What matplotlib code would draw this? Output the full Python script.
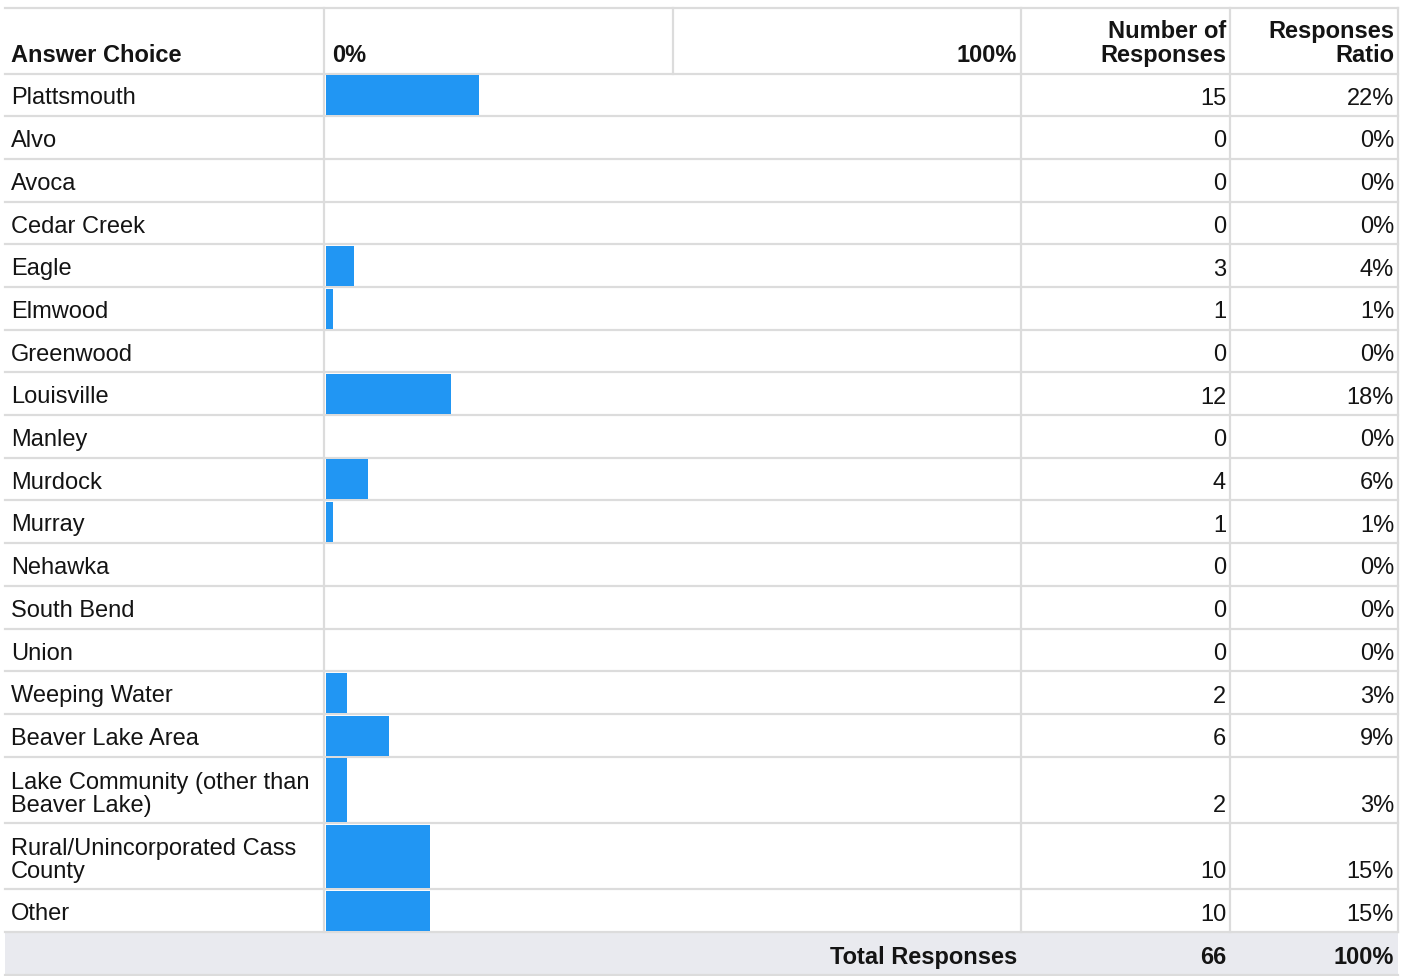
import matplotlib.pyplot as plt

# dados da tabela
choices = ['Plattsmouth', 'Alvo', 'Avoca', 'Cedar Creek', 'Eagle', 'Elmwood',
           'Greenwood', 'Louisville', 'Manley', 'Murdock', 'Murray', 'Nehawka',
           'South Bend', 'Union', 'Weeping Water', 'Beaver Lake Area',
           'Lake Community (other than\nBeaver Lake)',
           'Rural/Unincorporated Cass\nCounty', 'Other']
counts = [15, 0, 0, 0, 3, 1, 0, 12, 0, 4, 1, 0, 0, 0, 2, 6, 2, 10, 10]
ratios = [22, 0, 0, 0, 4, 1, 0, 18, 0, 6, 1, 0, 0, 0, 3, 9, 3, 15, 15]
header = ['Answer Choice', '0%', '100%', 'Number of\nResponses', 'Responses\nRatio']
total_label = 'Total Responses'
total_count = 66
total_ratio = '100%'

W, H = 1412, 976
plt.rcParams['font.family'] = ['Liberation Sans', 'DejaVu Sans']
fig = plt.figure(figsize=(W / 100, H / 100), dpi=100)
ax = fig.add_axes([0, 0, 1, 1])
ax.set_xlim(0, W)
ax.set_ylim(H, 0)
ax.axis('off')

# geometria (pixels)
x_left, x_c1, x_mid, x_c2, x_c3, x_right = 5, 324, 673, 1021, 1230, 1398
bar_x0, bar_w = 326, 695
top, head_bot = 8, 73.5
row_h, line_h = 42.7, 23.6
fs = 17
lsp = 1.03
txt = '#141414'
grid = '#dcdcdc'
blue = '#2196f3'

# limites das linhas
bounds = [head_bot]
for c in choices:
    bounds.append(bounds[-1] + row_h + line_h * c.count('\n'))
body_bot = bounds[-1]
total_bot = body_bot + 43

# fundo da linha de total
ax.fill_between([x_left, x_right], body_bot, total_bot, color='#e9eaef', lw=0, zorder=0)

# grade
for y in [top] + bounds:
    ax.plot([x_left, x_right], [y, y], color=grid, lw=1.6, zorder=1)
ax.plot([x_left, x_right], [total_bot, total_bot], color=grid, lw=1.6, zorder=1)
for x in [x_c1, x_c2, x_c3, x_right]:
    ax.plot([x, x], [top, body_bot], color=grid, lw=1.6, zorder=1)
ax.plot([x_mid, x_mid], [top, head_bot], color=grid, lw=1.6, zorder=1)

# cabeçalho (baseline = última linha)
def head_text(x, s, ha):
    ax.text(x, head_bot - 11.5, s, ha=ha, va='baseline', fontsize=fs,
            fontweight='bold', color=txt, linespacing=lsp)

head_text(11, header[0], 'left')
head_text(332, header[1], 'left')
head_text(x_c2 - 4, header[2], 'right')
head_text(x_c3 - 4, header[3], 'right')
head_text(x_right - 4, header[4], 'right')

# linhas de dados
tops = bounds[:-1]
bots = bounds[1:]
heights = [b - t - 2.5 for t, b in zip(tops, bots)]
centers = [t + 1.5 + h / 2 for t, h in zip(tops, heights)]
widths = [r / 100 * bar_w for r in ratios]
ax.barh(centers, widths, height=heights, left=bar_x0, color=blue, zorder=2)

for c, n, r, t, b in zip(choices, counts, ratios, tops, bots):
    ax.text(11, t + 31 + 24 * c.count('\n'), c, ha='left', va='baseline', fontsize=fs,
            color=txt, linespacing=lsp)
    ax.text(x_c3 - 4, b - 11.5, str(n), ha='right', va='baseline', fontsize=fs, color=txt)
    ax.text(x_right - 4, b - 11.5, f'{r}%', ha='right', va='baseline', fontsize=fs, color=txt)

# total
ax.text(x_c2 - 4, total_bot - 11, total_label, ha='right', va='baseline', fontsize=fs,
        fontweight='bold', color=txt)
ax.text(x_c3 - 4, total_bot - 11, str(total_count), ha='right', va='baseline', fontsize=fs,
        fontweight='bold', color=txt)
ax.text(x_right - 4, total_bot - 11, total_ratio, ha='right', va='baseline', fontsize=fs,
        fontweight='bold', color=txt)

fig.savefig('out.png', dpi=100, facecolor='white')
